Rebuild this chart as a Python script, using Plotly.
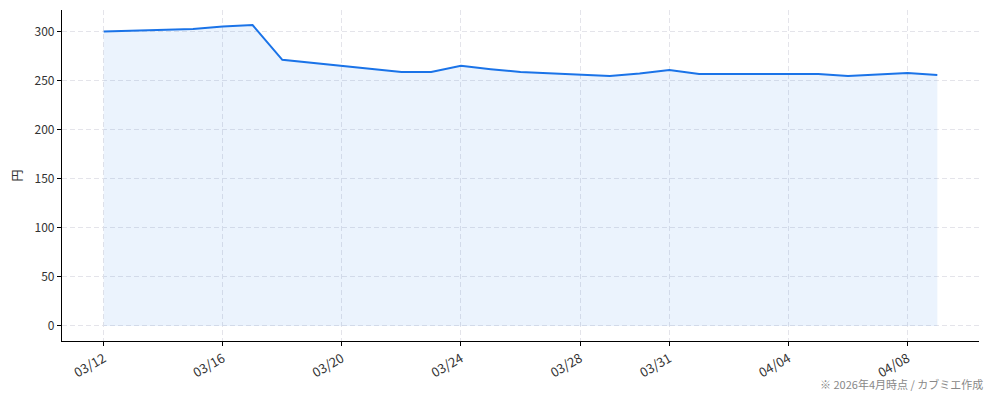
import pandas as pd
import plotly.graph_objects as go

# Price data (yen)
dates = ['2026-03-12', '2026-03-15', '2026-03-16', '2026-03-17', '2026-03-18',
         '2026-03-22', '2026-03-23', '2026-03-24', '2026-03-25', '2026-03-26',
         '2026-03-29', '2026-03-30', '2026-03-31', '2026-04-01', '2026-04-05',
         '2026-04-06', '2026-04-07', '2026-04-08', '2026-04-09']
prices = [300.5, 303, 305.5, 307, 271.5,
          259, 259, 265.5, 262, 259,
          255, 257.5, 261, 257, 257,
          255, 256.5, 258, 256]

tick_dates = ['2026-03-12', '2026-03-16', '2026-03-20', '2026-03-24',
              '2026-03-28', '2026-03-31', '2026-04-04', '2026-04-08']
tick_labels = ['03/12', '03/16', '03/20', '03/24', '03/28', '03/31', '04/04', '04/08']

x = pd.to_datetime(dates)
pad = pd.Timedelta(days=1.4)

blue = '#1a73e8'
font = 'Noto Sans CJK JP'
grid = '#e4e4ea'

fig = go.Figure()

# filled area under the line
fig.add_trace(go.Scatter(x=x, y=prices, mode='lines', fill='tozeroy',
                         fillcolor='rgba(26,115,232,0.085)',
                         line=dict(color=blue, width=2), hoverinfo='x+y'))

# page body has an 8px margin, so the figure is a bit smaller than the window
fig.update_layout(
    width=986, height=393,
    margin=dict(l=54, r=15, t=2, b=60, autoexpand=False),
    plot_bgcolor='white', paper_bgcolor='white',
    showlegend=False,
    font=dict(family=font, size=12, color='#333333'),
    xaxis=dict(range=[x.min() - pad, x.max() + pad],
               tickvals=pd.to_datetime(tick_dates), ticktext=tick_labels,
               tickangle=-30, ticks='outside', ticklen=4, tickcolor='black',
               tickfont=dict(size=13),
               showline=True, linewidth=1.2, linecolor='black',
               showgrid=True, gridcolor=grid, griddash='5px,3px',
               zeroline=False),
    yaxis=dict(range=[-15.35, 322.35],
               tickvals=[0, 50, 100, 150, 200, 250, 300],
               ticks='outside', ticklen=4, tickcolor='black',
               tickfont=dict(size=12),
               showline=True, linewidth=1.2, linecolor='black',
               showgrid=True, gridcolor=grid, griddash='5px,3px',
               zeroline=False,
               title=dict(text='円', standoff=16, font=dict(size=12))),
)

# footer note
fig.add_annotation(text='※ 2026年4月時点 / カブミエ作成', xref='paper', yref='paper',
                   x=1.006, y=-0.13, xanchor='right', yanchor='middle', showarrow=False,
                   font=dict(size=11, color='#888888', family=font))

fig.write_html("out.html")
